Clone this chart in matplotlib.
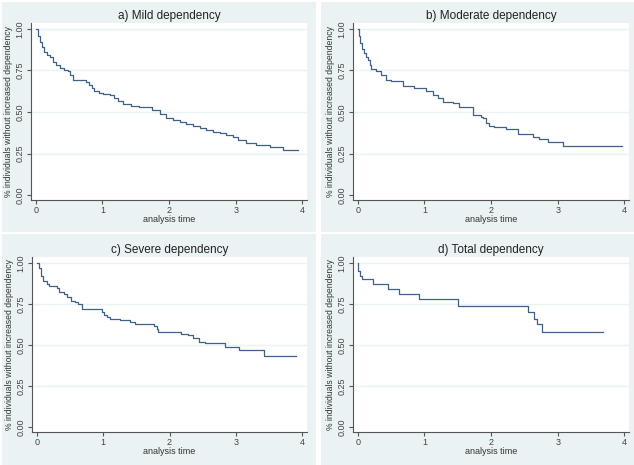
import matplotlib
matplotlib.use('Agg')
import matplotlib.pyplot as plt
from matplotlib.patches import Rectangle

# Kaplan-Meier estimates (time in years, survivor fraction)
mild_t = [0, 0.03, 0.06, 0.09, 0.13, 0.17, 0.21, 0.26, 0.31, 0.36, 0.42, 0.48, 0.52, 0.56,
          0.66, 0.76, 0.80, 0.84, 0.88, 0.95, 1.01, 1.11, 1.18, 1.23, 1.31, 1.43, 1.55, 1.66,
          1.75, 1.86, 1.96, 2.06, 2.16, 2.26, 2.36, 2.46, 2.56, 2.66, 2.76, 2.86, 2.96, 3.03,
          3.16, 3.31, 3.51, 3.71, 3.93]
mild_s = [1.0, 0.96, 0.92, 0.89, 0.86, 0.845, 0.83, 0.80, 0.785, 0.765, 0.755, 0.745, 0.725,
          0.695, 0.69, 0.683, 0.665, 0.645, 0.625, 0.615, 0.61, 0.60, 0.585, 0.565, 0.548,
          0.535, 0.532, 0.528, 0.51, 0.49, 0.463, 0.452, 0.442, 0.428, 0.413, 0.402, 0.392,
          0.382, 0.372, 0.36, 0.35, 0.333, 0.312, 0.302, 0.29, 0.272, 0.272]

moderate_t = [0, 0.02, 0.04, 0.07, 0.10, 0.13, 0.15, 0.18, 0.20, 0.275, 0.35, 0.425, 0.5,
              0.675, 0.85, 1.025, 1.125, 1.2, 1.275, 1.425, 1.525, 1.725, 1.85, 1.875, 1.925,
              1.975, 2.05, 2.225, 2.4, 2.625, 2.725, 2.85, 3.075, 3.96]
moderate_s = [1.0, 0.96, 0.915, 0.88, 0.855, 0.83, 0.815, 0.785, 0.758, 0.744, 0.724, 0.694,
              0.684, 0.654, 0.644, 0.624, 0.604, 0.584, 0.563, 0.553, 0.529, 0.483, 0.47,
              0.463, 0.433, 0.417, 0.408, 0.396, 0.368, 0.352, 0.336, 0.318, 0.298, 0.298]

severe_t = [0, 0.035, 0.07, 0.1, 0.16, 0.185, 0.31, 0.33, 0.41, 0.46, 0.51, 0.58, 0.63, 0.68,
            0.98, 1.01, 1.06, 1.1, 1.25, 1.41, 1.48, 1.76, 1.81, 1.83, 2.18, 2.28, 2.35, 2.45,
            2.53, 2.83, 3.05, 3.43, 3.9]
severe_s = [1.0, 0.97, 0.92, 0.89, 0.87, 0.86, 0.85, 0.82, 0.81, 0.79, 0.77, 0.76, 0.75, 0.72,
            0.70, 0.685, 0.67, 0.66, 0.65, 0.64, 0.63, 0.615, 0.60, 0.58, 0.57, 0.56, 0.54,
            0.52, 0.51, 0.49, 0.47, 0.43, 0.43]

total_t = [0, 0.01, 0.04, 0.065, 0.225, 0.46, 0.625, 0.925, 1.5, 2.56, 2.65, 2.69, 2.76, 3.675]
total_s = [1.0, 0.95, 0.92, 0.90, 0.87, 0.84, 0.81, 0.78, 0.74, 0.70, 0.66, 0.63, 0.58, 0.58]

titles = ['a) Mild dependency', 'b) Moderate dependency',
          'c) Severe dependency', 'd) Total dependency']
x_ticks = [0, 1, 2, 3, 4]
y_ticks = [0.0, 0.25, 0.5, 0.75, 1.0]
y_ticklabels = ['0.00', '0.25', '0.50', '0.75', '1.00']

W, H = 634, 465
BG = '#eaf2f3'
LINE = '#3f6186'
AXC = '#555555'

plt.rcParams['font.family'] = ['Liberation Sans', 'DejaVu Sans']

fig = plt.figure(figsize=(W / 100, H / 100), dpi=100)


def frac(x0, y0, x1, y1):
    # pixel box (top-left origin) -> figure fraction [l, b, w, h]
    return [x0 / W, 1 - y1 / H, (x1 - x0) / W, (y1 - y0) / H]


# panel background boxes and plot regions (pixels)
panels = [(2, 2, 316, 232), (321, 2, 634, 232), (2, 234, 316, 465), (321, 234, 634, 465)]
plot_boxes = [(31, 23, 307, 200), (353, 23, 629, 200), (32, 257, 307, 432), (353, 257, 629, 432)]
series = [(mild_t, mild_s), (moderate_t, moderate_s), (severe_t, severe_s), (total_t, total_s)]

for p in panels:
    l, b, w, h = frac(*p)
    fig.patches.append(Rectangle((l, b), w, h, transform=fig.transFigure,
                                 facecolor=BG, edgecolor='none', zorder=-10))

for i, (box, (t, s)) in enumerate(zip(plot_boxes, series)):
    ax = fig.add_axes(frac(*box))
    ax.set_zorder(1)
    ax.set_facecolor('white')
    ax.step(t, s, where='post', color=LINE, linewidth=0.9)
    ax.set_xlim(-0.07, 4.07)
    ax.set_ylim(-0.03, 1.036)
    ax.set_xticks(x_ticks)
    ax.set_yticks(y_ticks)
    ax.set_yticklabels(y_ticklabels, rotation=90, va='center')
    for yv in y_ticks[1:]:
        ax.axhline(yv, color=BG, linewidth=1.0, zorder=0)
    for side in ['top', 'right']:
        ax.spines[side].set_visible(False)
    for side in ['left', 'bottom']:
        ax.spines[side].set_color(AXC)
        ax.spines[side].set_linewidth(0.8)
    ax.tick_params(axis='both', colors=AXC, labelcolor='#444444', labelsize=6.5,
                   length=3, width=0.8, pad=1.5)
    ax.set_title(titles[i], fontsize=8.5, color='#222222', pad=3)
    ax.set_xlabel('analysis time', fontsize=6.5, color='#333333', labelpad=0)
    ax.set_ylabel('% individuals without increased dependency', fontsize=6.2,
                  color='#333333', labelpad=2)

fig.savefig('out.png', dpi=100)
